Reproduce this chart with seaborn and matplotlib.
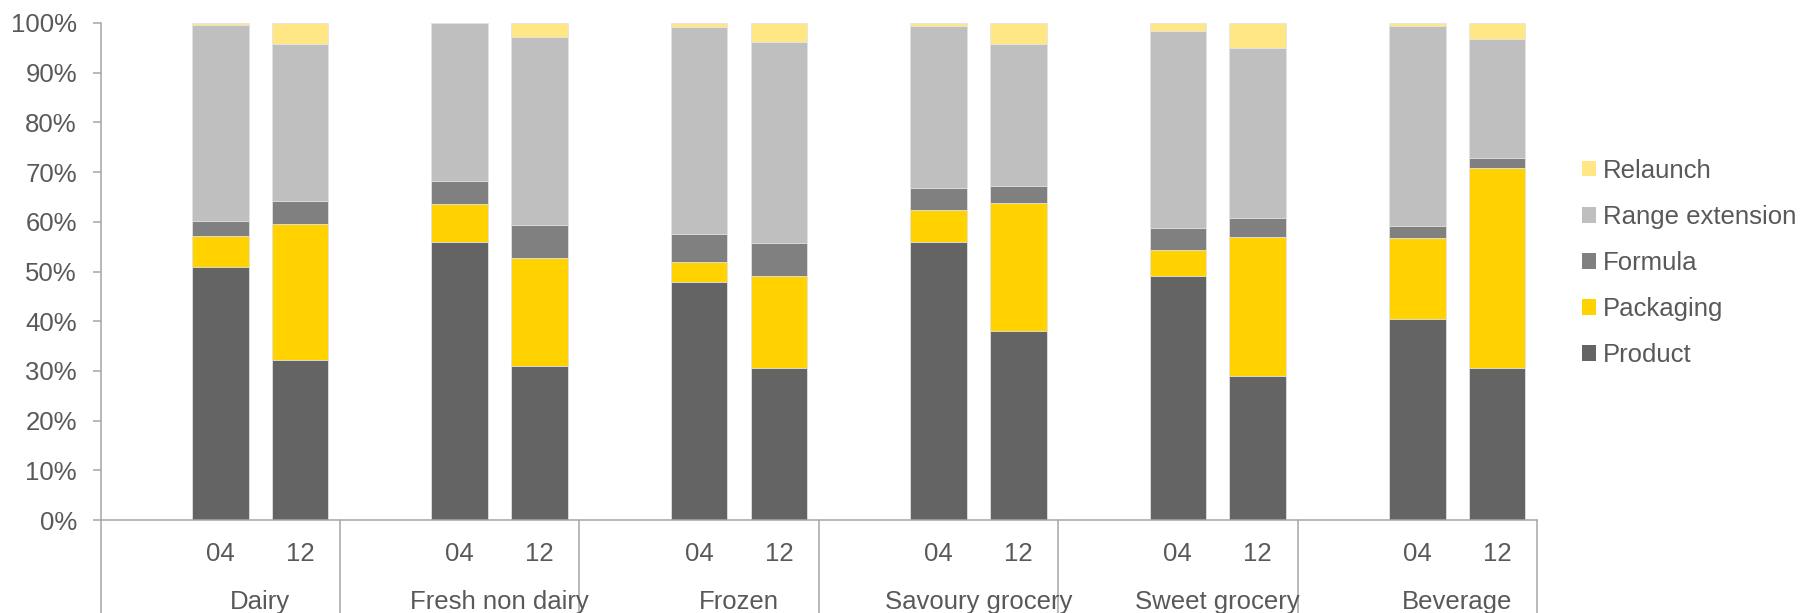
import numpy as np
import pandas as pd
import matplotlib
matplotlib.use("Agg")
import matplotlib.pyplot as plt
from matplotlib.patches import Patch
from matplotlib.lines import Line2D
import matplotlib.transforms as mtransforms
import seaborn as sns

# ---- data (share of launches, %) ----
categories = ["Dairy", "Fresh non dairy", "Frozen", "Savoury grocery", "Sweet grocery", "Beverage"]
years = ["04", "12"]

# one value per (category, year): Dairy 04, Dairy 12, Fresh 04, Fresh 12, ...
product = [50.9, 32.1, 56.0, 30.9, 47.8, 30.6, 55.9, 38.1, 49.1, 29.0, 40.4, 30.6]
packaging = [6.3, 27.5, 7.5, 21.9, 4.2, 18.5, 6.5, 25.6, 5.2, 27.9, 16.4, 40.3]
formula = [2.9, 4.5, 4.8, 6.5, 5.6, 6.7, 4.5, 3.6, 4.4, 3.9, 2.3, 1.9]
range_extension = [39.5, 31.7, 31.7, 37.9, 41.5, 40.3, 32.5, 28.4, 39.6, 34.1, 40.3, 24.0]
relaunch = [0.4, 4.2, 0.0, 2.8, 0.9, 3.9, 0.6, 4.3, 1.7, 5.1, 0.6, 3.2]

series_names = ["Product", "Packaging", "Formula", "Range extension", "Relaunch"]
series_values = [product, packaging, formula, range_extension, relaunch]
series_colors = ["#646464", "#FFD200", "#808080", "#BFBFBF", "#FFE785"]

yticks = [0, 10, 20, 30, 40, 50, 60, 70, 80, 90, 100]

TEXT = "#595959"
AXIS = "#A6A6A6"
FS = 18.5

# ---- long table with one slot per bar and an empty slot before each group ----
keys, labels = [], []
for c in categories:
    keys.append(f"{c}|gap")
    labels.append("")
    for y in years:
        keys.append(f"{c}|{y}")
        labels.append(y)

bar_keys = [f"{c}|{y}" for c in categories for y in years]
df = pd.DataFrame({"key": bar_keys})
cum = np.zeros(len(bar_keys))
for name, vals in zip(series_names, series_values):
    cum = cum + np.array(vals)
    df[name] = cum

sns.set_theme(style="white")
plt.rcParams["font.family"] = ["Liberation Sans", "DejaVu Sans"]

W, H = 1804, 613
fig = plt.figure(figsize=(W / 100, H / 100), dpi=100)
ax = fig.add_axes([100.5 / W, 1 - 520 / H, (1537 - 100.5) / W, (520 - 23) / H])

# stacked bars: draw cumulative totals from the top series down
for name, color in zip(reversed(series_names), reversed(series_colors)):
    sns.barplot(data=df, x="key", y=name, order=keys, color=color, saturation=1,
                width=0.71, errorbar=None, edgecolor="#E4E4E4", linewidth=0.6, ax=ax)

ax.set_xlim(-0.5, len(keys) - 0.5)
ax.set_ylim(0, 100)
ax.set_yticks(yticks)
ax.set_yticklabels([f"{t}%" for t in yticks])
ax.set_xticks(range(len(keys)))
ax.set_xticklabels(labels)
ax.set_xlabel("")
ax.set_ylabel("")

for s in ["top", "right"]:
    ax.spines[s].set_visible(False)
for s in ["left", "bottom"]:
    ax.spines[s].set_color(AXIS)
    ax.spines[s].set_linewidth(1.1)

ax.tick_params(axis="y", which="both", left=True, length=6, width=1.1, color=AXIS,
               labelsize=FS, labelcolor=TEXT, pad=11)
ax.tick_params(axis="x", length=0, labelsize=FS, labelcolor=TEXT, pad=16)

# group separators below the axis and group names
trans = mtransforms.blended_transform_factory(ax.transData, ax.transAxes)
for i in range(len(categories) + 1):
    xb = 3 * i - 0.5
    ax.add_line(Line2D([xb, xb], [0, -0.25], transform=trans, color=AXIS,
                       linewidth=1.1, clip_on=False))
for i, c in enumerate(categories):
    ax.text(3 * i + 1.5, -0.180, c, transform=trans, ha="center", va="baseline",
            fontsize=FS, color=TEXT)

# legend
handles = [Patch(facecolor=col, edgecolor="none", label=n)
           for n, col in zip(reversed(series_names), reversed(series_colors))]
fig.legend(handles=handles, loc="center left", bbox_to_anchor=(1582 / W, 1 - 263 / H),
           bbox_transform=fig.transFigure, frameon=False, fontsize=FS, labelcolor=TEXT,
           handlelength=0.55, handleheight=0.55, handletextpad=0.27, labelspacing=0.86,
           borderpad=0, borderaxespad=0)

fig.savefig("out.png", dpi=100)
